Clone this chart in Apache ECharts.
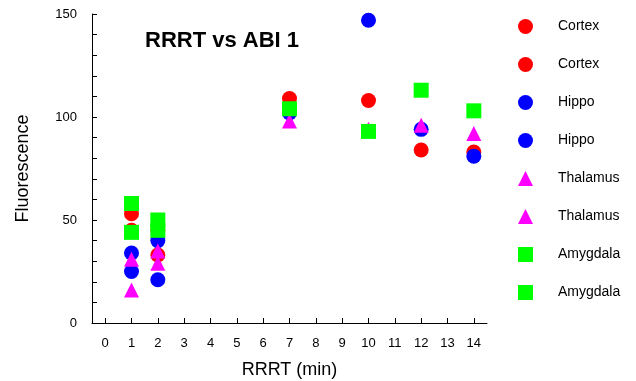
<!DOCTYPE html>
<html>
<head>
<meta charset="utf-8">
<script src="https://cdn.jsdelivr.net/npm/echarts@6/dist/echarts.min.js"></script>
<style>html,body{margin:0;padding:0;background:#fff}#c{width:636px;height:381px}</style>
</head>
<body>
<div id="c"></div>
<script>
// X positions (RRRT, min)
const xFull = [1, 2, 7, 10, 12, 14];
const xEarly = [1, 2];
// Fluorescence values
const cortexA = [53, 33, 109, 108, 84, 83];
const cortexB = [45, 45];
const hippoA = [34, 40, 102, 147, 94, 81];
const hippoB = [25, 21];
const thalamusA = [31, 35, 98, 94, 96, 92];
const thalamusB = [16, 29];
const amygdalaA = [58, 50, 104, 93, 113, 103];
const amygdalaB = [44, 45];
// Tick labels
const xTicks = [0,1,2,3,4,5,6,7,8,9,10,11,12,13,14];
const yLabels = [0, 50, 100, 150];

const FONT = 'Liberation Sans, Arial, sans-serif';
function pairs(xs, ys) { return ys.map((v, i) => [xs[i], v]); }

const seriesDefs = [
  { name: 'Cortex', xs: xFull, ys: cortexA, color: '#ff0000', symbol: 'circle' },
  { name: 'Cortex ', xs: xEarly, ys: cortexB, color: '#ff0000', symbol: 'circle' },
  { name: 'Hippo', xs: xFull, ys: hippoA, color: '#0000ff', symbol: 'circle' },
  { name: 'Hippo ', xs: xEarly, ys: hippoB, color: '#0000ff', symbol: 'circle' },
  { name: 'Thalamus', xs: xFull, ys: thalamusA, color: '#ff00ff', symbol: 'triangle' },
  { name: 'Thalamus ', xs: xEarly, ys: thalamusB, color: '#ff00ff', symbol: 'triangle' },
  { name: 'Amygdala', xs: xFull, ys: amygdalaA, color: '#00ff00', symbol: 'rect' },
  { name: 'Amygdala ', xs: xEarly, ys: amygdalaB, color: '#00ff00', symbol: 'rect' }
];

const chart = echarts.init(document.getElementById('c'), null, { renderer: 'canvas' });
chart.setOption({
  animation: false,
  backgroundColor: '#ffffff',
  textStyle: { fontFamily: FONT },
  grid: { left: 92, top: 14, width: 395, height: 309, containLabel: false, outerBoundsMode: 'none' },
  graphic: [{
    type: 'text', left: 145, top: 30,
    style: { text: 'RRRT vs ABI 1', font: 'bold 22px ' + FONT, fill: '#000' }
  }],
  legend: {
    orient: 'vertical', left: 518, top: 19, padding: 0,
    itemWidth: 15, itemHeight: 15, itemGap: 23,
    data: seriesDefs.map(s => s.name),
    textStyle: { fontSize: 14, color: '#000', fontFamily: FONT, padding: [2, 0, 0, 20] }
  },
  xAxis: {
    type: 'value', min: -0.5, max: 14.5,
    name: 'RRRT (min)', nameLocation: 'middle', nameGap: 38,
    nameTextStyle: { fontSize: 18, color: '#000', fontFamily: FONT },
    axisLine: { show: true, onZero: false, lineStyle: { color: '#000', width: 1 } },
    axisTick: { show: true, inside: true, length: 5, customValues: xTicks, lineStyle: { color: '#000' } },
    axisLabel: { customValues: xTicks, fontSize: 13, color: '#000', margin: 14, fontFamily: FONT },
    splitLine: { show: false }
  },
  yAxis: {
    type: 'value', min: 0, max: 150, interval: 10,
    name: 'Fluorescence', nameLocation: 'middle', nameGap: 60, nameRotate: 90,
    nameTextStyle: { fontSize: 18, color: '#000', fontFamily: FONT },
    axisLine: { show: true, onZero: false, lineStyle: { color: '#000', width: 1 } },
    axisTick: { show: true, inside: true, length: 5, lineStyle: { color: '#000' } },
    axisLabel: { customValues: yLabels, fontSize: 13, color: '#000', margin: 15, fontFamily: FONT },
    splitLine: { show: false }
  },
  series: seriesDefs.map(s => ({
    type: 'scatter', name: s.name, symbol: s.symbol, symbolSize: 15,
    itemStyle: { color: s.color, opacity: 1 },
    data: pairs(s.xs, s.ys)
  }))
});
</script>
</body>
</html>
